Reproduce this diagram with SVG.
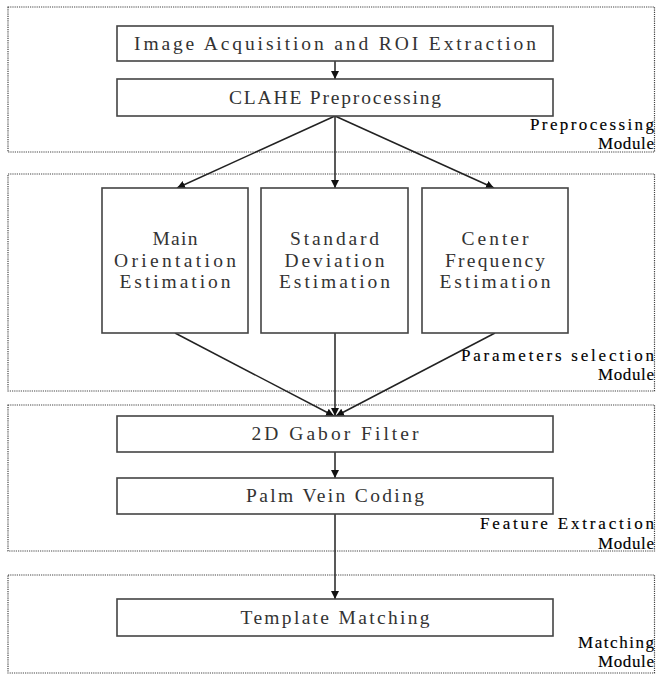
<svg xmlns="http://www.w3.org/2000/svg" width="656" height="675" viewBox="0 0 656 675">
<style>
.mod{fill:none;stroke:#444;stroke-width:1.2;stroke-dasharray:1.2 1}
.box{fill:#fff;stroke:#444;stroke-width:1.6}
.t{font-family:"Liberation Serif","DejaVu Serif",serif;font-size:19.5px;fill:#333;text-anchor:middle}
.lbl{font-family:"Liberation Serif","DejaVu Serif",serif;font-size:17px;fill:#000;stroke:#000;stroke-width:0.15;text-anchor:end}
.c{stroke:#222;stroke-width:1.5;fill:none;marker-end:url(#ah)}
</style>
<defs>
<marker id="ah" viewBox="0 0 10 10" refX="10" refY="5" markerWidth="8" markerHeight="8" markerUnits="userSpaceOnUse" orient="auto">
<path d="M0,0 L10,5 L0,10 z" fill="#111"/>
</marker>
</defs>
<rect width="656" height="675" fill="#fff"/>
<g id="preprocessing-module">
<rect class="mod" x="8" y="7" width="646.5" height="145"/>
<text class="lbl" x="654" y="130" textLength="124" lengthAdjust="spacing">Preprocessing</text>
<text class="lbl" x="654" y="149" textLength="56" lengthAdjust="spacing">Module</text>
</g>
<g id="parameters-module">
<rect class="mod" x="8" y="174" width="646.5" height="217"/>
<text class="lbl" x="654" y="361" textLength="193" lengthAdjust="spacing">Parameters selection</text>
<text class="lbl" x="654" y="380" textLength="56" lengthAdjust="spacing">Module</text>
</g>
<g id="feature-module">
<rect class="mod" x="8" y="405" width="646.5" height="146"/>
<text class="lbl" x="654" y="529" textLength="174" lengthAdjust="spacing">Feature Extraction</text>
<text class="lbl" x="654" y="548.5" textLength="56" lengthAdjust="spacing">Module</text>
</g>
<g id="matching-module">
<rect class="mod" x="8" y="575" width="646.5" height="98"/>
<text class="lbl" x="654" y="648" textLength="76" lengthAdjust="spacing">Matching</text>
<text class="lbl" x="654" y="667" textLength="56" lengthAdjust="spacing">Module</text>
</g>
<g id="connectors">
<line class="c" x1="335" y1="61" x2="335" y2="79"/>
<line class="c" x1="335" y1="116" x2="177" y2="188"/>
<line class="c" x1="335" y1="116" x2="335" y2="188"/>
<line class="c" x1="335" y1="116" x2="494" y2="188"/>
<line class="c" x1="175" y1="333" x2="334" y2="416"/>
<line class="c" x1="335" y1="333" x2="335" y2="416"/>
<line class="c" x1="495" y1="333" x2="336" y2="416"/>
<line class="c" x1="335" y1="452" x2="335" y2="478"/>
<line class="c" x1="335" y1="514" x2="335" y2="599"/>
</g>
<g id="image-acquisition">
<rect class="box" x="117" y="26" width="436" height="35"/>
<text class="t" x="335" y="50" textLength="402" lengthAdjust="spacing">Image Acquisition and ROI Extraction</text>
</g>
<g id="clahe">
<rect class="box" x="117" y="79" width="436" height="37"/>
<text class="t" x="335" y="104" textLength="212" lengthAdjust="spacing">CLAHE Preprocessing</text>
</g>
<g id="main-orientation">
<rect class="box" x="102" y="188" width="146" height="145"/>
<text class="t" x="175" y="245" textLength="45" lengthAdjust="spacing">Main</text>
<text class="t" x="175" y="267" textLength="122" lengthAdjust="spacing">Orientation</text>
<text class="t" x="175" y="288" textLength="111" lengthAdjust="spacing">Estimation</text>
</g>
<g id="standard-deviation">
<rect class="box" x="261" y="188" width="147" height="145"/>
<text class="t" x="334.5" y="245" textLength="89" lengthAdjust="spacing">Standard</text>
<text class="t" x="334.5" y="267" textLength="100" lengthAdjust="spacing">Deviation</text>
<text class="t" x="334.5" y="288" textLength="111" lengthAdjust="spacing">Estimation</text>
</g>
<g id="center-frequency">
<rect class="box" x="422" y="188" width="146" height="145"/>
<text class="t" x="495" y="245" textLength="67" lengthAdjust="spacing">Center</text>
<text class="t" x="495" y="267" textLength="100" lengthAdjust="spacing">Frequency</text>
<text class="t" x="495" y="288" textLength="111" lengthAdjust="spacing">Estimation</text>
</g>
<g id="gabor-filter">
<rect class="box" x="117" y="416" width="436" height="36"/>
<text class="t" x="335" y="440" textLength="167" lengthAdjust="spacing">2D Gabor Filter</text>
</g>
<g id="palm-vein-coding">
<rect class="box" x="117" y="478" width="436" height="36"/>
<text class="t" x="335" y="502" textLength="178" lengthAdjust="spacing">Palm Vein Coding</text>
</g>
<g id="template-matching">
<rect class="box" x="117" y="599" width="436" height="37"/>
<text class="t" x="335" y="624" textLength="189" lengthAdjust="spacing">Template Matching</text>
</g>
</svg>
